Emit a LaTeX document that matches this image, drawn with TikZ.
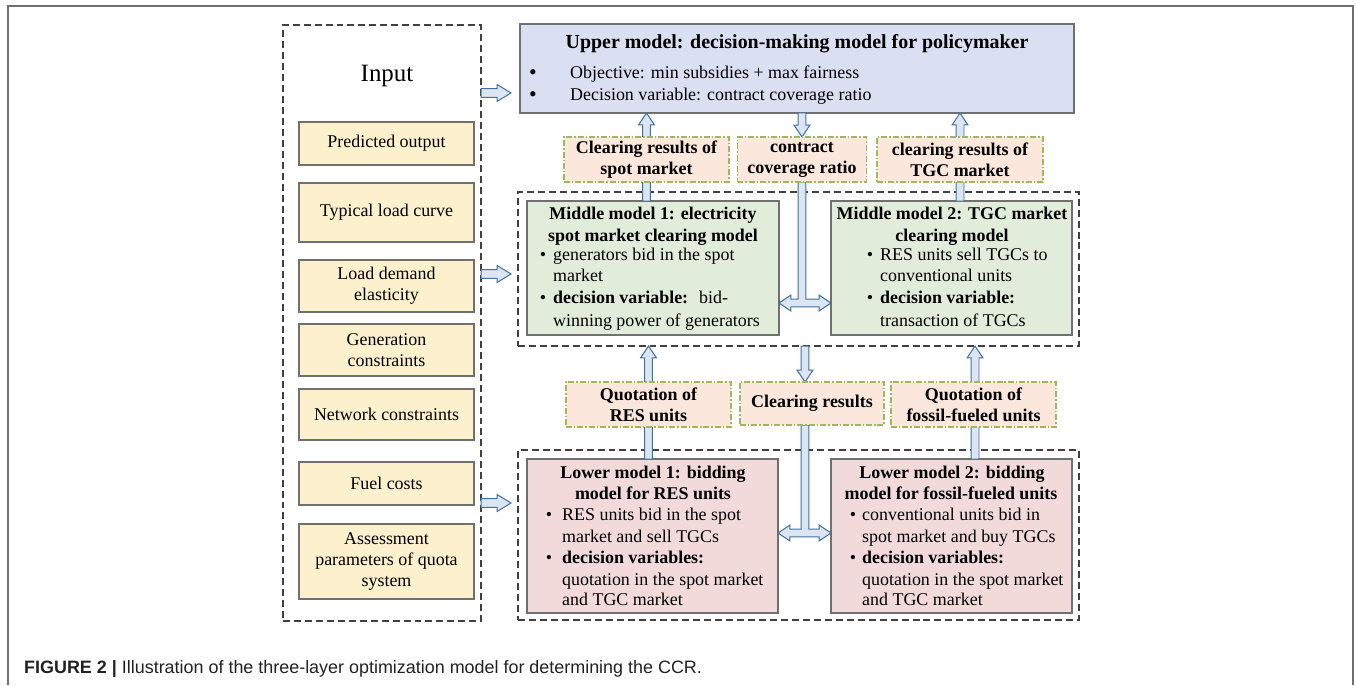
\documentclass[tikz,border=0pt]{standalone}
\usepackage{fontspec}
\setmainfont{Liberation Serif}
\newfontfamily\capfont{Liberation Sans}
\usetikzlibrary{calc}
\definecolor{upfill}{HTML}{DAE0F2}
\definecolor{yfill}{HTML}{FDF0CC}
\definecolor{gfill}{HTML}{E2ECDA}
\definecolor{pfill}{HTML}{F2DADA}
\definecolor{labfill}{HTML}{FBE7DC}
\definecolor{labline}{HTML}{9BBB59}
\definecolor{afill}{HTML}{DCE6F2}
\definecolor{aline}{HTML}{41719C}
\definecolor{boxline}{HTML}{707070}
\definecolor{frameline}{HTML}{404040}
\definecolor{outerline}{HTML}{707070}
\definecolor{captext}{HTML}{222222}

\newcommand\arrUp[2]{\filldraw[barrow] let \p1=#1,\p2=#2 in (\x1-4pt,\y1) -- (\x1-4pt,\y2-12pt) -- (\x1-8pt,\y2-12pt) -- (\x1,\y2) -- (\x1+8pt,\y2-12pt) -- (\x1+4pt,\y2-12pt) -- (\x1+4pt,\y1) -- cycle;}
\newcommand\arrDown[2]{\filldraw[barrow] let \p1=#1,\p2=#2 in (\x1-4pt,\y1) -- (\x1-4pt,\y2+12pt) -- (\x1-8pt,\y2+12pt) -- (\x1,\y2) -- (\x1+8pt,\y2+12pt) -- (\x1+4pt,\y2+12pt) -- (\x1+4pt,\y1) -- cycle;}
\newcommand\arrRight[2]{\filldraw[barrow] let \p1=#1,\p2=#2 in (\x1,\y1+4.5pt) -- (\x2-14pt,\y1+4.5pt) -- (\x2-14pt,\y1+8.5pt) -- (\x2,\y1) -- (\x2-14pt,\y1-8.5pt) -- (\x2-14pt,\y1-4.5pt) -- (\x1,\y1-4.5pt) -- cycle;}
\newcommand\arrT[3]{\filldraw[barrow] let \p1=#1,\p2=#2,\p3=#3 in (\x1-4pt,\y1) -- (\x1-4pt,\y2+4pt) -- (\x2+12pt,\y2+4pt) -- (\x2+12pt,\y2+8pt) -- (\x2,\y2) -- (\x2+12pt,\y2-8pt) -- (\x2+12pt,\y2-4pt) -- (\x3-12pt,\y2-4pt) -- (\x3-12pt,\y2-8pt) -- (\x3,\y2) -- (\x3-12pt,\y2+8pt) -- (\x3-12pt,\y2+4pt) -- (\x1+4pt,\y2+4pt) -- (\x1+4pt,\y1) -- cycle;}
\newcommand\Lw[3]{\node[txt,anchor=base west] (#1) at (#2) {#3};}
\newcommand\Lc[3]{\node[ttl,anchor=base] (#1) at (#2) {#3};}
\newcommand\bul[1][5pt]{\makebox[0pt][r]{\textbullet\hspace{#1}}}

\begin{document}
\begin{tikzpicture}[x=1bp,y=-1bp,
  box/.style={draw=boxline,line width=1.3pt,inner sep=0pt,outer sep=0pt},
  frm/.style={draw=frameline,line width=1.2pt,dash pattern=on 7pt off 4pt,inner sep=0pt,outer sep=0pt},
  lab/.style={draw=labline,fill=labfill,line width=1.1pt,dash pattern=on 6pt off 2pt on 1.5pt off 2pt,
    font=\fontsize{18}{21}\selectfont\bfseries,align=center,inner sep=0pt,outer sep=0pt},
  ybox/.style={box,fill=yfill,font=\fontsize{18}{21}\selectfont,align=center,minimum width=175bp},
  barrow/.style={fill=afill,draw=aline,line width=1pt},
  txt/.style={inner sep=0pt,font=\fontsize{18}{21}\selectfont},
  ttl/.style={inner sep=0pt,font=\fontsize{18}{21}\selectfont\bfseries},
]
\useasboundingbox (0,0) rectangle (1356,685);
\fill[white] (0,0) rectangle (1356,685);
\draw[outerline,line width=1.5pt] (8,685) -- (8,6) -- (1353,6) -- (1353,685);

% frames
\node[frm,minimum width=198bp,minimum height=596bp] (inframe) at (382,323) {};
\node[frm,minimum width=561bp,minimum height=154bp] (midframe) at (798.5,269) {};
\node[frm,minimum width=561bp,minimum height=170bp] (lowframe) at (798.5,535) {};

% boxes
\node[box,fill=upfill,minimum width=554bp,minimum height=89bp] (upper) at (797,68.5) {};
\node[box,fill=gfill,minimum width=252bp,minimum height=134bp] (mid1) at (653,268) {};
\node[box,fill=gfill,minimum width=241bp,minimum height=134bp] (mid2) at (951.5,268) {};
\node[box,fill=pfill,minimum width=251bp,minimum height=154bp] (low1) at (652.5,536) {};
\node[box,fill=pfill,minimum width=241bp,minimum height=154bp] (low2) at (951.5,536) {};

% label centres
\coordinate (lab1c) at (646.5,159.5);
\coordinate (lab2c) at (802,159.5);
\coordinate (lab3c) at (960,159.5);
\coordinate (lab4c) at (648.5,404.5);
\coordinate (lab5c) at (812,403.5);
\coordinate (lab6c) at (973.5,404.5);

% arrows
\coordinate (ia1) at (511,93);
\coordinate (ia2) at (511,274);
\coordinate (ia3) at (511,503);
\arrRight{(inframe.east |- ia1)}{(ia1)}
\arrRight{(inframe.east |- ia2)}{(ia2)}
\arrRight{(inframe.east |- ia3)}{(ia3)}

\coordinate (l2top) at (802,137);
\coordinate (l2bot) at (802,182);
\coordinate (tj1) at (802,303);
\arrUp{(mid1.north -| lab1c)}{(upper.south -| lab1c)}
\arrUp{(mid2.north -| lab3c)}{(upper.south -| lab3c)}
\arrDown{(upper.south -| l2top)}{(l2top)}
\arrT{(l2bot)}{(mid1.east |- tj1)}{(mid2.west |- tj1)}

\coordinate (ax6) at (975,0);
\coordinate (l5top) at (805,382);
\coordinate (l5bot) at (805,425);
\coordinate (tj2) at (805,533);
\arrUp{(low1.north -| lab4c)}{(midframe.south -| lab4c)}
\arrUp{(low2.north -| ax6)}{(midframe.south -| ax6)}
\arrDown{(midframe.south -| l5top)}{(l5top)}
\arrT{(l5bot)}{(low1.east |- tj2)}{(low2.west |- tj2)}

% labels
\node[lab,minimum width=165bp,minimum height=45bp] (lab1) at (lab1c) {Clearing results of\\spot market};
\node[lab,minimum width=129bp,minimum height=45bp] (lab2) at (lab2c) {contract\\coverage ratio};
\node[lab,minimum width=166bp,minimum height=45bp] (lab3) at (lab3c) {clearing results of\\TGC market};
\node[lab,minimum width=165bp,minimum height=45bp] (lab4) at (lab4c) {Quotation of\\RES units};
\node[lab,minimum width=144bp,minimum height=43bp] (lab5) at (lab5c) {Clearing results};
\node[lab,minimum width=165bp,minimum height=45bp] (lab6) at (lab6c) {Quotation of\\fossil-fueled units};

% input column
\node[inner sep=0pt,font=\fontsize{25}{28}\selectfont] (inlbl) at (387,76) {Input};
\node[ybox,minimum height=43bp] (y1) at (386.5,143.5) {Predicted output};
\node[ybox,minimum height=59bp] (y2) at (386.5,212.5) {Typical load curve};
\node[ybox,minimum height=52bp] (y3) at (386.5,286) {Load demand\\elasticity};
\node[ybox,minimum height=52bp] (y4) at (386.5,350) {Generation\\constraints};
\node[ybox,minimum height=51bp] (y5) at (386.5,414.5) {Network constraints};
\node[ybox,minimum height=43bp] (y6) at (386.5,483.5) {Fuel costs};
\node[ybox,minimum height=75bp] (y7) at (386.5,561.5) {Assessment\\parameters of quota\\system};

% upper text
\node[ttl,anchor=base,font=\fontsize{20}{22}\selectfont\bfseries] (ut) at (797,49) {Upper model: decision-making model for policymaker};
\node[txt,anchor=base,font=\fontsize{22}{22}\selectfont] (ub1) at (533,80) {\textbullet};
\node[txt,anchor=base,font=\fontsize{22}{22}\selectfont] (ub2) at (533,102) {\textbullet};
\Lw{ul1}{570,79}{Objective: min subsidies + max fairness}
\Lw{ul2}{570,101}{Decision variable: contract coverage ratio}

% middle 1
\Lc{m1t1}{653,219}{Middle model 1: electricity}
\Lc{m1t2}{653,241}{spot market clearing model}
\Lw{m1l1}{553,260}{\bul[7pt]generators bid in the spot}
\Lw{m1l2}{553,281}{market}
\Lw{m1l3}{553,303}{\bul[7pt]\textbf{decision variable:}\hspace{11pt}bid-}
\Lw{m1l4}{553,326}{winning power of generators}

% middle 2
\Lc{m2t1}{952,219}{Middle model 2: TGC market}
\Lc{m2t2}{952,241}{clearing model}
\Lw{m2l1}{880,260}{\bul[7pt]RES units sell TGCs to}
\Lw{m2l2}{880,281}{conventional units}
\Lw{m2l3}{880,303}{\bul[7pt]\textbf{decision variable:}}
\Lw{m2l4}{880,326}{transaction of TGCs}

% lower 1
\Lc{l1t1}{653,478}{Lower model 1: bidding}
\Lc{l1t2}{653,499}{model for RES units}
\Lw{l1l1}{562,520}{\bul[10pt]RES units bid in the spot}
\Lw{l1l2}{562,542}{market and sell TGCs}
\Lw{l1l3}{562,563}{\bul[10pt]\textbf{decision variables:}}
\Lw{l1l4}{562,585}{quotation in the spot market}
\Lw{l1l5}{562,605}{and TGC market}

% lower 2
\Lc{l2t1}{952,478}{Lower model 2: bidding}
\Lc{l2t2}{951,499}{model for fossil-fueled units}
\Lw{l2l1}{862,520}{\bul[6pt]conventional units bid in}
\Lw{l2l2}{862,542}{spot market and buy TGCs}
\Lw{l2l3}{862,563}{\bul[6pt]\textbf{decision variables:}}
\Lw{l2l4}{862,585}{quotation in the spot market}
\Lw{l2l5}{862,605}{and TGC market}

% caption
\node[anchor=base west,inner sep=0pt,text=captext,font=\capfont\fontsize{18}{20}\selectfont] (cap) at (24,673)
  {\textbf{FIGURE 2 |} Illustration of the three-layer optimization model for determining the CCR.};
\end{tikzpicture}
\end{document}
